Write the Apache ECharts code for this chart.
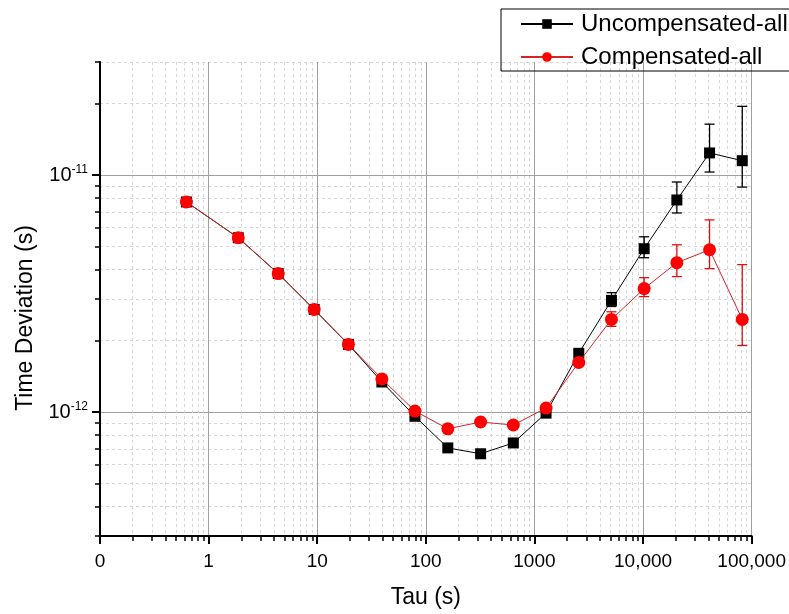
<!DOCTYPE html>
<html>
<head>
<meta charset="utf-8">
<script src="https://cdn.jsdelivr.net/npm/echarts@6/dist/echarts.min.js"></script>
<style>html,body{margin:0;padding:0;background:#fff}#chart{width:789px;height:614px}</style>
</head>
<body>
<div id="chart"></div>
<script>
// averaging times (s)
var tau = [0.625, 1.875, 4.375, 9.375, 19.375, 39.375, 79.375, 159.375, 319.375, 639.375, 1279.375, 2559.375, 5119.375, 10239.375, 20479.375, 40959.375, 81919.375];
var uncompensated = [7.7e-12, 5.44e-12, 3.84e-12, 2.71e-12, 1.93e-12, 1.34e-12, 9.6e-13, 7.06e-13, 6.67e-13, 7.41e-13, 9.9e-13, 1.77e-12, 2.96e-12, 4.89e-12, 7.85e-12, 1.24e-11, 1.15e-11];
var compensated = [7.7e-12, 5.44e-12, 3.84e-12, 2.71e-12, 1.93e-12, 1.38e-12, 1.01e-12, 8.5e-13, 9.08e-13, 8.82e-13, 1.04e-12, 1.62e-12, 2.46e-12, 3.32e-12, 4.27e-12, 4.84e-12, 2.46e-12];
// error bars (only the long tau points have visible ones)
var errTau = [5119.375, 10239.375, 20479.375, 40959.375, 81919.375];
var uncompLow = [2.79e-12, 4.48e-12, 6.92e-12, 1.03e-11, 8.9e-12];
var uncompHigh = [3.19e-12, 5.49e-12, 9.35e-12, 1.64e-11, 1.95e-11];
var compLow = [2.30e-12, 3.07e-12, 3.73e-12, 4.03e-12, 1.91e-12];
var compHigh = [2.65e-12, 3.69e-12, 5.08e-12, 6.47e-12, 4.19e-12];
// ticks
var xMajor = [0.1, 1, 10, 100, 1000, 10000, 100000];
var xMinor = [0.2, 0.3, 0.4, 0.5, 0.6, 0.7, 0.8, 0.9, 2, 3, 4, 5, 6, 7, 8, 9, 20, 30, 40, 50, 60, 70, 80, 90,
  200, 300, 400, 500, 600, 700, 800, 900, 2000, 3000, 4000, 5000, 6000, 7000, 8000, 9000,
  20000, 30000, 40000, 50000, 60000, 70000, 80000, 90000];
var yMajor = [1e-12, 1e-11];
var yMinor = [3e-13, 4e-13, 5e-13, 6e-13, 7e-13, 8e-13, 9e-13, 2e-12, 3e-12, 4e-12, 5e-12, 6e-12, 7e-12, 8e-12, 9e-12, 2e-11, 3e-11];

var FONT = 'Liberation Sans, Arial, sans-serif';
var xMin = 0.1, xMax = 100000, yMin = 3e-13, yMax = 3e-11;

function pair(xs, ys) { return xs.map(function (x, i) { return [x, ys[i]]; }); }
function bars(xs, lo, hi) { return xs.map(function (x, i) { return [x, lo[i], hi[i]]; }); }

function errorBar(color) {
  return function (params, api) {
    var x = api.value(0);
    var lo = api.coord([x, api.value(1)]);
    var hi = api.coord([x, api.value(2)]);
    var w = 5;
    var st = { stroke: color, lineWidth: 1.3 };
    return { type: 'group', children: [
      { type: 'line', shape: { x1: lo[0], y1: lo[1], x2: hi[0], y2: hi[1] }, style: st },
      { type: 'line', shape: { x1: lo[0] - w, y1: lo[1], x2: lo[0] + w, y2: lo[1] }, style: st },
      { type: 'line', shape: { x1: hi[0] - w, y1: hi[1], x2: hi[0] + w, y2: hi[1] }, style: st }
    ]};
  };
}

function xLabel(v) {
  if (v < 0.5) return '0';
  v = Math.round(v);
  return v >= 10000 ? v.toLocaleString('en-US') : String(v);
}
function yLabel(v) {
  return '10{sup|' + Math.round(Math.log10(v)) + '}';
}

var myChart = echarts.init(document.getElementById('chart'));
var option = {
  animation: false,
  backgroundColor: '#fff',
  grid: { left: 100, right: 36, top: 62, bottom: 74 },
  legend: {
    data: ['Uncompensated-all', 'Compensated-all'],
    orient: 'vertical',
    left: 501, top: 9,
    padding: [3, 40, 2, 19],
    itemGap: 9, itemWidth: 52, itemHeight: 12,
    borderColor: '#000', borderWidth: 1,
    textStyle: { fontSize: 24, color: '#000', fontFamily: FONT, padding: [0, 0, 0, 3] }
  },
  xAxis: [{
    type: 'log', min: xMin, max: xMax, logBase: 10,
    name: 'Tau (s)', nameLocation: 'middle', nameGap: 50,
    nameTextStyle: { fontSize: 23, color: '#000', fontFamily: FONT },
    axisLine: { lineStyle: { color: '#000', width: 2 } },
    axisTick: { customValues: xMajor, length: 8, lineStyle: { color: '#000', width: 2 } },
    axisLabel: { customValues: xMajor, formatter: xLabel, fontSize: 19, color: '#000', fontFamily: FONT, margin: 16 },
    splitLine: { show: true, lineStyle: { color: '#a0a0a0', width: 1 } }
  }, {
    type: 'log', min: xMin, max: xMax, logBase: 10, position: 'bottom',
    axisLine: { show: false },
    axisTick: { customValues: xMinor, length: 5, lineStyle: { color: '#000', width: 1.5 } },
    axisLabel: { show: false },
    splitLine: { show: true, lineStyle: { color: '#d6d6d6', width: 1, type: [3, 3] } }
  }],
  yAxis: [{
    type: 'log', min: yMin, max: yMax, logBase: 10,
    name: 'Time Deviation (s)', nameLocation: 'middle', nameGap: 62,
    nameTextStyle: { fontSize: 23, color: '#000', fontFamily: FONT, padding: [0, 38, 0, 0] },
    axisLine: { lineStyle: { color: '#000', width: 2 } },
    axisTick: { customValues: yMajor, length: 8, lineStyle: { color: '#000', width: 2 } },
    axisLabel: {
      customValues: yMajor, formatter: yLabel, color: '#000', fontFamily: FONT, margin: 12,
      rich: { sup: { fontSize: 12, fontFamily: FONT, color: '#000', padding: [0, 0, 11, 0] } },
      fontSize: 20
    },
    splitLine: { show: true, lineStyle: { color: '#a0a0a0', width: 1 } }
  }, {
    type: 'log', min: yMin, max: yMax, logBase: 10, position: 'left',
    axisLine: { show: false },
    axisTick: { customValues: yMinor, length: 5, lineStyle: { color: '#000', width: 1.5 } },
    axisLabel: { show: false },
    splitLine: { show: true, lineStyle: { color: '#d6d6d6', width: 1, type: [3, 3] } }
  }],
  series: [{
    name: 'Uncompensated-all', type: 'line',
    data: pair(tau, uncompensated),
    symbol: 'rect', symbolSize: 11,
    itemStyle: { color: '#000' },
    lineStyle: { color: '#000', width: 1 },
    z: 3
  }, {
    name: 'Compensated-all', type: 'line',
    data: pair(tau, compensated),
    symbol: 'circle', symbolSize: 13,
    itemStyle: { color: '#ff0000' },
    lineStyle: { color: '#d42424', width: 1 },
    z: 4
  }, {
    type: 'custom', name: 'errU',
    renderItem: errorBar('#000'),
    data: bars(errTau, uncompLow, uncompHigh),
    encode: { x: 0, y: [1, 2] },
    z: 2
  }, {
    type: 'custom', name: 'errC',
    renderItem: errorBar('#e01010'),
    data: bars(errTau, compLow, compHigh),
    encode: { x: 0, y: [1, 2] },
    z: 2
  }]
};
myChart.setOption(option);
</script>
</body>
</html>
